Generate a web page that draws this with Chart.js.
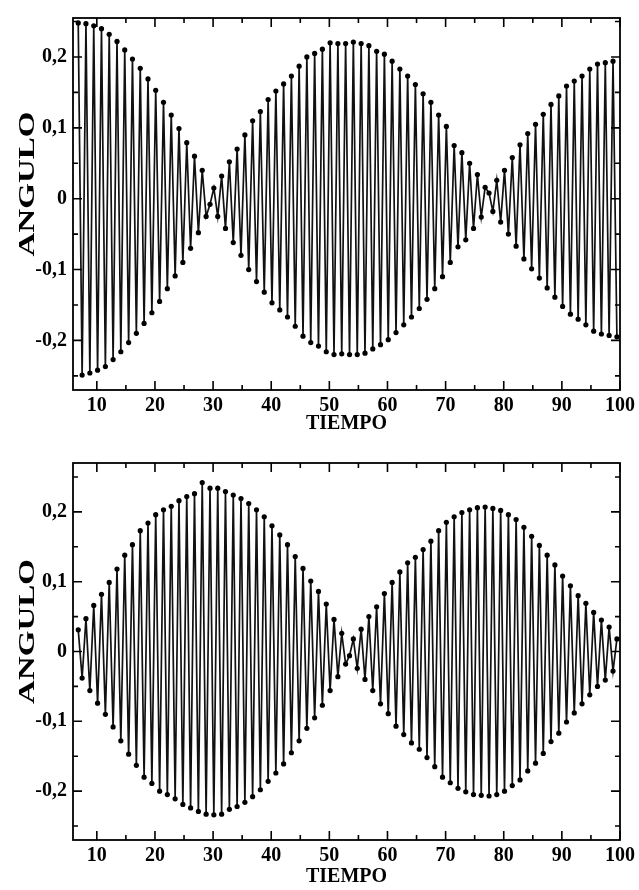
<!DOCTYPE html>
<html>
<head>
<meta charset="utf-8">
<script src="https://cdn.jsdelivr.net/npm/chart.js@4.4.1/dist/chart.umd.min.js"></script>
<style>
  body { margin: 0; background: #fff; width: 639px; height: 890px; overflow: hidden; }
  canvas { position: absolute; left: 0; display: block; }
  #arriba { top: 0; }
  #abajo { top: 445px; }
</style>
</head>
<body>
<canvas id="arriba" width="639" height="445"></canvas>
<canvas id="abajo" width="639" height="445"></canvas>
<script>
// instantes de los maximos y minimos
const tiempo = [
  6.80, 7.47, 8.13, 8.80, 9.47, 10.13, 10.80, 11.47, 12.13, 12.80,
  13.47, 14.13, 14.80, 15.47, 16.13, 16.80, 17.47, 18.13, 18.80, 19.47,
  20.13, 20.80, 21.47, 22.13, 22.80, 23.47, 24.13, 24.80, 25.47, 26.13,
  26.80, 27.47, 28.13, 28.80, 29.47, 30.13, 30.80, 31.47, 32.13, 32.80,
  33.47, 34.13, 34.80, 35.47, 36.13, 36.80, 37.47, 38.13, 38.80, 39.47,
  40.13, 40.80, 41.47, 42.13, 42.80, 43.47, 44.13, 44.80, 45.47, 46.13,
  46.80, 47.47, 48.13, 48.80, 49.47, 50.13, 50.80, 51.47, 52.13, 52.80,
  53.47, 54.13, 54.80, 55.47, 56.13, 56.80, 57.47, 58.13, 58.80, 59.47,
  60.13, 60.80, 61.47, 62.13, 62.80, 63.47, 64.13, 64.80, 65.47, 66.13,
  66.80, 67.47, 68.13, 68.80, 69.47, 70.13, 70.80, 71.47, 72.13, 72.80,
  73.47, 74.13, 74.80, 75.47, 76.13, 76.80, 77.47, 78.13, 78.80, 79.47,
  80.13, 80.80, 81.47, 82.13, 82.80, 83.47, 84.13, 84.80, 85.47, 86.13,
  86.80, 87.47, 88.13, 88.80, 89.47, 90.13, 90.80, 91.47, 92.13, 92.80,
  93.47, 94.13, 94.80, 95.47, 96.13, 96.80, 97.47, 98.13, 98.80, 99.47
];

// pendulo 1 (grafica de arriba)
const anguloArriba = [
  0.248, -0.249, 0.247, -0.246, 0.244, -0.242, 0.240, -0.237, 0.232, -0.227,
  0.222, -0.216, 0.210, -0.203, 0.197, -0.190, 0.184, -0.176, 0.169, -0.161,
  0.153, -0.145, 0.136, -0.127, 0.118, -0.109, 0.099, -0.090, 0.079, -0.070,
  0.060, -0.048, 0.040, -0.025, -0.008, 0.015, -0.025, 0.032, -0.042, 0.052,
  -0.062, 0.070, -0.080, 0.090, -0.100, 0.110, -0.117, 0.123, -0.132, 0.140,
  -0.147, 0.152, -0.157, 0.162, -0.167, 0.173, -0.180, 0.187, -0.194, 0.200,
  -0.203, 0.205, -0.208, 0.211, -0.216, 0.220, -0.220, 0.219, -0.219, 0.219,
  -0.220, 0.221, -0.220, 0.219, -0.218, 0.216, -0.212, 0.208, -0.206, 0.204,
  -0.199, 0.194, -0.189, 0.183, -0.178, 0.173, -0.167, 0.161, -0.155, 0.148,
  -0.142, 0.136, -0.127, 0.118, -0.110, 0.102, -0.090, 0.075, -0.068, 0.065,
  -0.058, 0.050, -0.042, 0.034, -0.026, 0.016, 0.008, -0.018, 0.026, -0.033,
  0.040, -0.050, 0.058, -0.067, 0.076, -0.085, 0.092, -0.099, 0.105, -0.112,
  0.119, -0.126, 0.133, -0.139, 0.145, -0.152, 0.159, -0.163, 0.166, -0.170,
  0.173, -0.178, 0.183, -0.187, 0.190, -0.191, 0.192, -0.193, 0.194, -0.195
];

// pendulo 2 (grafica de abajo)
const anguloAbajo = [
  0.031, -0.038, 0.047, -0.056, 0.066, -0.074, 0.082, -0.090, 0.099, -0.108,
  0.118, -0.128, 0.138, -0.147, 0.153, -0.163, 0.173, -0.180, 0.184, -0.189,
  0.196, -0.200, 0.203, -0.205, 0.208, -0.211, 0.216, -0.219, 0.222, -0.224,
  0.226, -0.229, 0.242, -0.233, 0.234, -0.234, 0.234, -0.233, 0.229, -0.226,
  0.224, -0.222, 0.219, -0.216, 0.212, -0.208, 0.203, -0.198, 0.193, -0.186,
  0.180, -0.174, 0.167, -0.161, 0.153, -0.145, 0.136, -0.128, 0.119, -0.110,
  0.101, -0.095, 0.086, -0.077, 0.068, -0.056, 0.046, -0.036, 0.026, -0.018,
  -0.006, 0.018, -0.024, 0.032, -0.040, 0.050, -0.056, 0.064, -0.075, 0.083,
  -0.089, 0.099, -0.107, 0.114, -0.119, 0.127, -0.131, 0.135, -0.140, 0.146,
  -0.152, 0.158, -0.165, 0.173, -0.180, 0.185, -0.188, 0.193, -0.196, 0.199,
  -0.201, 0.203, -0.205, 0.206, -0.206, 0.207, -0.207, 0.205, -0.205, 0.202,
  -0.200, 0.196, -0.192, 0.189, -0.184, 0.178, -0.171, 0.165, -0.160, 0.152,
  -0.146, 0.138, -0.129, 0.124, -0.117, 0.108, -0.101, 0.094, -0.088, 0.080,
  -0.075, 0.069, -0.062, 0.056, -0.050, 0.045, -0.041, 0.035, -0.028, 0.018
];

const ticksX = [10, 20, 30, 40, 50, 60, 70, 80, 90, 100];
const ticksXMenores = [15, 25, 35, 45, 55, 65, 75, 85, 95];
const ticksY = [-0.2, -0.1, 0, 0.1, 0.2];
const etiquetasY = ['-0,2', '-0,1', '0', '0,1', '0,2'];
const ticksYMenores = [-0.25, -0.15, -0.05, 0.05, 0.15, 0.25];

const fuente = 'Liberation Serif, "DejaVu Serif", serif';

// marco cerrado con marcas hacia dentro en los cuatro lados, y titulo vertical
const marco = {
  id: 'marco',
  afterDraw(chart) {
    const { ctx, chartArea: a, scales: { x, y } } = chart;
    ctx.save();
    ctx.strokeStyle = '#000';
    ctx.lineWidth = 1.8;
    ctx.strokeRect(a.left, a.top, a.right - a.left, a.bottom - a.top);
    ctx.lineWidth = 1.6;
    ctx.beginPath();
    const marcaX = (v, len) => {
      const px = x.getPixelForValue(v);
      ctx.moveTo(px, a.bottom); ctx.lineTo(px, a.bottom - len);
      ctx.moveTo(px, a.top); ctx.lineTo(px, a.top + len);
    };
    const marcaY = (v, len) => {
      const py = y.getPixelForValue(v);
      ctx.moveTo(a.left, py); ctx.lineTo(a.left + len, py);
      ctx.moveTo(a.right, py); ctx.lineTo(a.right - len, py);
    };
    ticksX.forEach(v => marcaX(v, 9));
    ticksXMenores.forEach(v => marcaX(v, 5));
    ticksY.forEach(v => marcaY(v, 9));
    ticksYMenores.forEach(v => marcaY(v, 5));
    ctx.stroke();

    // ANGULO
    ctx.translate(28, (a.top + a.bottom) / 2 - 20);
    ctx.rotate(-Math.PI / 2);
    ctx.font = 'bold 23px ' + fuente;
    const w = ctx.measureText('ANGULO').width;
    ctx.scale(145 / w, 1);
    ctx.fillStyle = '#000';
    ctx.textAlign = 'center';
    ctx.textBaseline = 'middle';
    ctx.fillText('ANGULO', 0, 0);
    ctx.restore();
  }
};

function grafica(id, valores, yMin, yMax, alturaX, padTop, padTitulo) {
  const puntos = tiempo.map((t, i) => ({ x: t, y: valores[i] }));
  return new Chart(document.getElementById(id), {
    type: 'line',
    data: {
      datasets: [{
        data: puntos,
        borderColor: '#111',
        borderWidth: 1.7,
        pointRadius: 2.6,
        pointBackgroundColor: '#000',
        pointBorderWidth: 0,
        tension: 0
      }]
    },
    options: {
      responsive: false,
      animation: false,
      devicePixelRatio: 1,
      layout: { padding: { top: padTop, right: 17, left: 0, bottom: 0 } },
      plugins: { legend: { display: false }, tooltip: { enabled: false } },
      scales: {
        x: {
          type: 'linear',
          min: 5.9,
          max: 100,
          afterBuildTicks: s => { s.ticks = ticksX.map(v => ({ value: v })); },
          afterFit: s => { s.height = alturaX; },
          grid: { display: false, drawTicks: false },
          border: { display: false },
          ticks: { color: '#000', padding: 4, maxRotation: 0,
                   font: { family: fuente, size: 20, weight: 'bold' },
                   callback: v => String(v) },
          title: { display: true, text: 'TIEMPO', color: '#000',
                   font: { family: fuente, size: 20, weight: 'bold' },
                   padding: { top: 0, bottom: padTitulo } }
        },
        y: {
          min: yMin,
          max: yMax,
          afterBuildTicks: s => { s.ticks = ticksY.map(v => ({ value: v })); },
          afterFit: s => { s.width = 73; },
          grid: { display: false, drawTicks: false },
          border: { display: false },
          ticks: { color: '#000', padding: 6,
                   font: { family: fuente, size: 20, weight: 'bold' },
                   callback: (v, i) => etiquetasY[i] }
        }
      }
    },
    plugins: [marco]
  });
}

grafica('arriba', anguloArriba, -0.27, 0.255, 55, 18, 9);
grafica('abajo', anguloAbajo, -0.27, 0.27, 50, 11, 1);
</script>
</body>
</html>
